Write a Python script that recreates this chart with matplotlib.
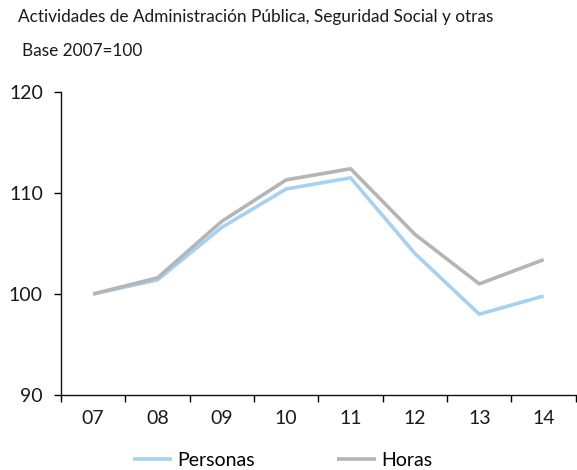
import matplotlib
matplotlib.use("Agg")
import matplotlib.pyplot as plt
import numpy as np

# Chart data (index, base 2007=100)
YEARS = ["07", "08", "09", "10", "11", "12", "13", "14"]
PERSONAS = [100.0, 101.4, 106.6, 110.4, 111.5, 104.0, 98.0, 99.8]
HORAS = [100.0, 101.6, 107.2, 111.3, 112.4, 105.9, 101.0, 103.4]
Y_TICKS = [90, 100, 110, 120]

TITLE = "Actividades de Administración Pública, Seguridad Social y otras"
SUBTITLE = "Base 2007=100"
BLUE, GRAY = "#a7d1f0", "#b5b5b5"
TXT = "#1a1a1a"

plt.rcParams["font.family"] = ["Lato", "DejaVu Sans"]

fig = plt.figure(figsize=(5.77, 4.70), dpi=100)
ax = fig.add_axes([0.1057, 0.1596, 0.8923, 0.6447])

x = np.arange(len(YEARS))
ax.plot(x, PERSONAS, color=BLUE, lw=2.6, label="Personas", solid_capstyle="butt")
ax.plot(x, HORAS, color=GRAY, lw=2.6, label="Horas", solid_capstyle="butt")

ax.set_xlim(-0.5, len(YEARS) - 0.5)
ax.set_ylim(90, 120)
ax.set_yticks(Y_TICKS)
ax.set_yticklabels([str(v) for v in Y_TICKS], fontsize=14, color=TXT)

# categorical axis: ticks between categories, labels centred
ax.set_xticks(np.arange(-0.5, len(YEARS), 1.0))
ax.set_xticklabels([])
ax.set_xticks(x, minor=True)
ax.set_xticklabels(YEARS, minor=True, fontsize=14, color=TXT)
ax.tick_params(axis="x", which="minor", length=0, pad=11)
ax.tick_params(axis="x", which="major", length=5, width=1, direction="out")
ax.tick_params(axis="y", length=5, width=1, direction="out", pad=8)

for side in ["top", "right"]:
    ax.spines[side].set_visible(False)
for side in ["left", "bottom"]:
    ax.spines[side].set_linewidth(1)
    ax.spines[side].set_color("#111111")

fig.text(18 / 577, 1 - 22 / 470, TITLE, fontsize=12.4, color=TXT, va="baseline")
fig.text(22 / 577, 1 - 56 / 470, SUBTITLE, fontsize=12.4, color=TXT, va="baseline")

fig.legend(loc="lower center", bbox_to_anchor=(0.49, -0.035), ncol=2, frameon=False,
           fontsize=14, handlelength=2.0, columnspacing=4.2, handletextpad=0.3)

fig.savefig("out.png", dpi=100)
